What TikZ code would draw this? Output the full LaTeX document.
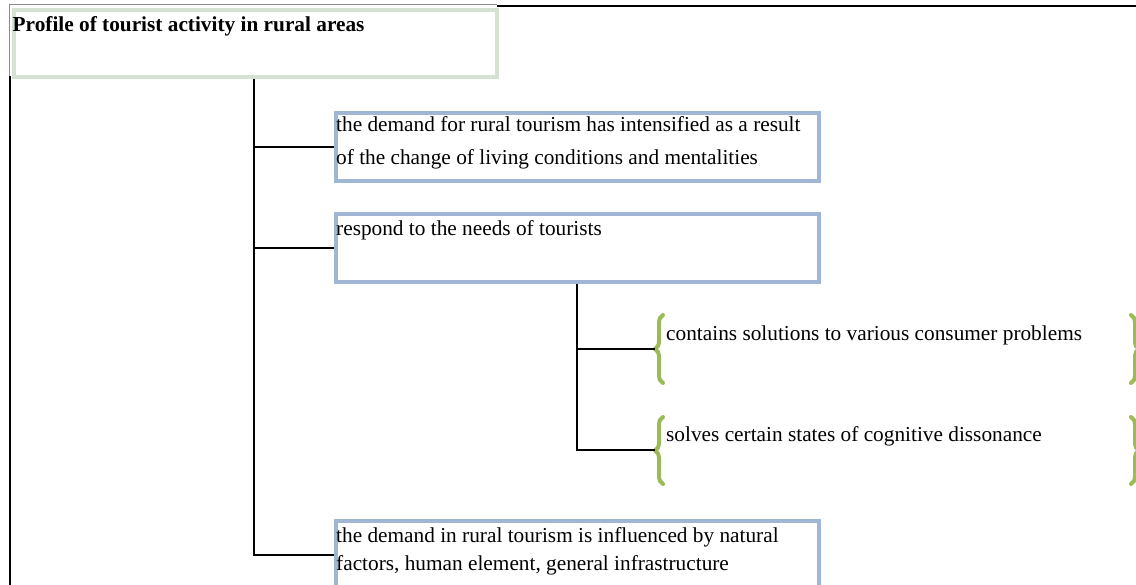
\documentclass[tikz,border=0pt]{standalone}
\usepackage{fontspec}
\setmainfont{Liberation Serif}
\usetikzlibrary{decorations.pathreplacing}
\definecolor{boxblue}{HTML}{9FB6D5}
\definecolor{titlegreen}{HTML}{D5E2D1}
\definecolor{bracegreen}{HTML}{9BBB59}
\definecolor{edgegray}{HTML}{8C8C8C}
\tikzset{
  bluebox/.style={draw=boxblue, line width=4pt, fill=white, inner sep=0pt,
    anchor=north west, minimum width=483pt, minimum height=68pt},
  titlebox/.style={draw=titlegreen, line width=4pt, fill=white, inner sep=0pt,
    anchor=north west, minimum width=483pt, minimum height=67pt},
  txt/.style={anchor=base west, inner sep=0pt, font=\fontsize{21.3}{31}\selectfont},
  btxt/.style={txt, font=\fontsize{21.3}{31}\selectfont\bfseries},
  conn/.style={draw=black, line width=2pt},
  bracestyle/.style={draw=bracegreen, line width=4pt, line cap=round,
    decorate, decoration={brace, amplitude=8pt}},
}
\begin{document}
\begin{tikzpicture}[x=1pt, y=-1pt]
\clip (0,0) rectangle (1136,585);
\fill[white] (0,0) rectangle (1136,585);

% outer frame
\draw[conn] (497,6) -- (1136,6);
\draw[conn] (10,76) -- (10,590);
\draw[edgegray, line width=1pt] (9,5) -- (497,5);
\draw[edgegray, line width=1pt] (9,5) -- (9,76);

% title
\node[titlebox] (title) at (12,8) {};
\node[btxt] (ttl) at (12.5,32) {Profile of tourist activity in rural areas};

% first-level items
\node[bluebox] (b1) at (334,111) {};
\node[txt] (b1a) at (336,132) {the demand for rural tourism has intensified as a result};
\node[txt] (b1b) at (336,165) {of the change of living conditions and mentalities};

\node[bluebox] (b2) at (334,212) {};
\node[txt] (b2a) at (336,236) {respond to the needs of tourists};

\node[bluebox] (b3) at (334,519) {};
\node[txt] (b3a) at (336,542) {the demand in rural tourism is influenced by natural};
\node[txt] (b3b) at (336,570) {factors, human element, general infrastructure};

% second-level items between braces
\coordinate (c1t) at (663,315);
\coordinate (c1b) at (663,383);
\coordinate (c1w) at (655,349);
\node[txt] (c1a) at (666,341) {contains solutions to various consumer problems};
\draw[bracestyle] (c1b) -- (c1t);
\draw[bracestyle] (1131,315) -- (1131,383);

\coordinate (c2t) at (663,417);
\coordinate (c2b) at (663,484);
\coordinate (c2w) at (655,450);
\node[txt] (c2a) at (666,442) {solves certain states of cognitive dissonance};
\draw[bracestyle] (c2b) -- (c2t);
\draw[bracestyle] (1131,417) -- (1131,484);

% connectors
\coordinate (tr) at (254,0);
\coordinate (sr) at (577,0);
\draw[conn] (title.south -| tr) |- (b3.west);
\draw[conn] (tr |- b1.west) -- (b1.west);
\draw[conn] (tr |- b2.west) -- (b2.west);
\draw[conn] (b2.south -| sr) |- (c2w);
\draw[conn] (sr |- c1w) -- (c1w);
\end{tikzpicture}
\end{document}
